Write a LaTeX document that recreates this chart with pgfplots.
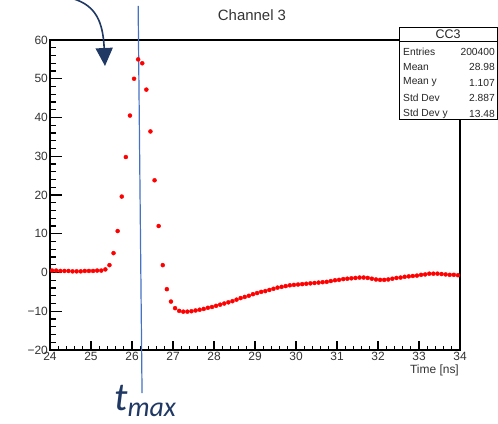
\documentclass[border=0pt]{standalone}
\usepackage{pgfplots}
\pgfplotsset{compat=1.18}
\usepackage{pgfplotstable}
\usepackage{fontspec}
\setmainfont{Liberation Sans}
\newfontfamily\calibri{Carlito}
\usetikzlibrary{arrows.meta}

\definecolor{navy}{RGB}{31,56,100}
\definecolor{markerblue}{RGB}{68,114,196}

% Channel 3 waveform, 0.1 ns bins: bin centre [ns], amplitude
\pgfplotstableread{
t v
24.05 0.5
24.15 0.5
24.25 0.4
24.35 0.4
24.45 0.4
24.55 0.3
24.65 0.3
24.75 0.3
24.85 0.4
24.95 0.4
25.05 0.4
25.15 0.5
25.25 0.5
25.35 0.8
25.45 1.9
25.55 5.0
25.65 10.7
25.75 19.6
25.85 29.8
25.95 40.5
26.05 50.0
26.15 55.0
26.25 54.0
26.35 47.2
26.45 36.4
26.55 23.8
26.65 12.0
26.75 1.9
26.85 -4.3
26.95 -7.5
27.05 -9.2
27.15 -9.9
27.25 -10.1
27.35 -10.1
27.45 -10.0
27.55 -9.8
27.65 -9.6
27.75 -9.4
27.85 -9.1
27.95 -8.9
28.05 -8.6
28.15 -8.3
28.25 -8.0
28.35 -7.7
28.45 -7.4
28.55 -7.0
28.65 -6.6
28.75 -6.3
28.85 -6.0
28.95 -5.6
29.05 -5.3
29.15 -5.0
29.25 -4.8
29.35 -4.5
29.45 -4.2
29.55 -3.9
29.65 -3.7
29.75 -3.5
29.85 -3.3
29.95 -3.2
30.05 -3.1
30.15 -3.0
30.25 -2.9
30.35 -2.8
30.45 -2.7
30.55 -2.6
30.65 -2.5
30.75 -2.4
30.85 -2.2
30.95 -2.0
31.05 -1.9
31.15 -1.7
31.25 -1.6
31.35 -1.5
31.45 -1.4
31.55 -1.3
31.65 -1.3
31.75 -1.4
31.85 -1.6
31.95 -1.8
32.05 -1.9
32.15 -1.9
32.25 -1.8
32.35 -1.6
32.45 -1.4
32.55 -1.3
32.65 -1.1
32.75 -1.0
32.85 -0.9
32.95 -0.8
33.05 -0.6
33.15 -0.5
33.25 -0.3
33.35 -0.3
33.45 -0.3
33.55 -0.4
33.65 -0.5
33.75 -0.6
33.85 -0.6
33.95 -0.7
}\channelthree

\begin{document}
\begin{tikzpicture}
\begin{axis}[
  scale only axis,
  width=410bp, height=310bp,
  xmin=24, xmax=34, ymin=-20, ymax=60,
  clip=false,
  axis line style={line width=1.3bp},
  xtick={24,25,...,34},
  ytick={-20,-10,...,60},
  minor x tick num=4,
  minor y tick num=4,
  tick align=inside,
  major tick length=9bp,
  minor tick length=4.5bp,
  tick style={black, line width=1.2bp},
  xticklabels={24,25,26,27,28,29,30,31,32,33,34},
  yticklabels={−20,−10,0,10,20,30,40,50,60},
  xticklabel style={font=\fontsize{12}{12}\selectfont, text=black!80, inner sep=2bp},
  yticklabel style={font=\fontsize{12}{12}\selectfont, text=black!80, inner sep=2bp},
  xtick pos=left,
  ytick pos=left,
  xlabel={Time [ns]},
  xlabel style={at={(axis description cs:1,0)}, anchor=north east,
    yshift=-15bp, xshift=-1bp, inner sep=0pt,
    font=\fontsize{12}{12}\selectfont, text=black!80},
]
\addplot[only marks, mark=*, mark size=2bp, color=red,
  mark options={draw=red, fill=red}] table[x=t, y=v] {\channelthree};

% inward tick marks along the time axis (majors 1 ns, minors 0.2 ns)
\draw[black, line width=1.4bp]
  (24,-20)--(24,-17.7) (25,-20)--(25,-17.7) (26,-20)--(26,-17.7)
  (27,-20)--(27,-17.7) (28,-20)--(28,-17.7) (29,-20)--(29,-17.7)
  (30,-20)--(30,-17.7) (31,-20)--(31,-17.7) (32,-20)--(32,-17.7)
  (33,-20)--(33,-17.7) (34,-20)--(34,-17.7);
\draw[black, line width=1.2bp]
  (24.2,-20)--(24.2,-18.85) (24.4,-20)--(24.4,-18.85) (24.6,-20)--(24.6,-18.85) (24.8,-20)--(24.8,-18.85)
  (25.2,-20)--(25.2,-18.85) (25.4,-20)--(25.4,-18.85) (25.6,-20)--(25.6,-18.85) (25.8,-20)--(25.8,-18.85)
  (26.2,-20)--(26.2,-18.85) (26.4,-20)--(26.4,-18.85) (26.6,-20)--(26.6,-18.85) (26.8,-20)--(26.8,-18.85)
  (27.2,-20)--(27.2,-18.85) (27.4,-20)--(27.4,-18.85) (27.6,-20)--(27.6,-18.85) (27.8,-20)--(27.8,-18.85)
  (28.2,-20)--(28.2,-18.85) (28.4,-20)--(28.4,-18.85) (28.6,-20)--(28.6,-18.85) (28.8,-20)--(28.8,-18.85)
  (29.2,-20)--(29.2,-18.85) (29.4,-20)--(29.4,-18.85) (29.6,-20)--(29.6,-18.85) (29.8,-20)--(29.8,-18.85)
  (30.2,-20)--(30.2,-18.85) (30.4,-20)--(30.4,-18.85) (30.6,-20)--(30.6,-18.85) (30.8,-20)--(30.8,-18.85)
  (31.2,-20)--(31.2,-18.85) (31.4,-20)--(31.4,-18.85) (31.6,-20)--(31.6,-18.85) (31.8,-20)--(31.8,-18.85)
  (32.2,-20)--(32.2,-18.85) (32.4,-20)--(32.4,-18.85) (32.6,-20)--(32.6,-18.85) (32.8,-20)--(32.8,-18.85)
  (33.2,-20)--(33.2,-18.85) (33.4,-20)--(33.4,-18.85) (33.6,-20)--(33.6,-18.85) (33.8,-20)--(33.8,-18.85);
% inward tick marks along the amplitude axis (majors 10, minors 2)
\draw[black, line width=1.4bp]
  (24,-20)--(24.29,-20) (24,-10)--(24.29,-10) (24,0)--(24.29,0)
  (24,10)--(24.29,10) (24,20)--(24.29,20) (24,30)--(24.29,30)
  (24,40)--(24.29,40) (24,50)--(24.29,50) (24,60)--(24.29,60);
\draw[black, line width=1.2bp]
  (24,-18)--(24.146,-18) (24,-16)--(24.146,-16) (24,-14)--(24.146,-14) (24,-12)--(24.146,-12)
  (24,-8)--(24.146,-8) (24,-6)--(24.146,-6) (24,-4)--(24.146,-4) (24,-2)--(24.146,-2)
  (24,2)--(24.146,2) (24,4)--(24.146,4) (24,6)--(24.146,6) (24,8)--(24.146,8)
  (24,12)--(24.146,12) (24,14)--(24.146,14) (24,16)--(24.146,16) (24,18)--(24.146,18)
  (24,22)--(24.146,22) (24,24)--(24.146,24) (24,26)--(24.146,26) (24,28)--(24.146,28)
  (24,32)--(24.146,32) (24,34)--(24.146,34) (24,36)--(24.146,36) (24,38)--(24.146,38)
  (24,42)--(24.146,42) (24,44)--(24.146,44) (24,46)--(24.146,46) (24,48)--(24.146,48)
  (24,52)--(24.146,52) (24,54)--(24.146,54) (24,56)--(24.146,56) (24,58)--(24.146,58);

% marker line at the peak time
\draw[markerblue, line width=1.2bp] (axis cs:26.15,68.8) -- (axis cs:26.245,-31.1);
\coordinate (sw) at (rel axis cs:0,0);
\end{axis}

% frame in bp measured from the top-left corner, y pointing down
\begin{scope}[x=1bp, y=-1bp, shift={(sw)}, shift={(-50,-350)}]
  \node[font=\fontsize{15}{15}\selectfont, text=black!80] at (252,15) {Channel 3};
  % statistics box
  \draw[line width=1bp, fill=white] (399,27) rectangle (497,119);
  \draw[line width=0.8bp] (399,41.7) -- (497,41.7);
  \node[font=\fontsize{12.5}{12.5}\selectfont, text=black!85] at (448,34.5) {CC3};
  \begin{scope}[every node/.style={font=\fontsize{10.3}{10.3}\selectfont, text=black!85, inner sep=0pt}]
    \node[anchor=west] at (403,51.5) {Entries};
    \node[anchor=east] at (495,51.5) {200400};
    \node[anchor=west] at (403,67) {Mean};
    \node[anchor=east] at (495,67) {28.98};
    \node[anchor=west] at (403,82.5) {Mean y};
    \node[anchor=east] at (495,82.5) {1.107};
    \node[anchor=west] at (403,98) {Std Dev};
    \node[anchor=east] at (495,98) {2.887};
    \node[anchor=west] at (403,113.5) {Std Dev y};
    \node[anchor=east] at (495,113.5) {13.48};
  \end{scope}
  % curved pointer
  \draw[navy, line width=1.6bp, -{Triangle[width=17bp, length=18bp]}]
    (74,-1) .. controls (96,6) and (103,22) .. (105,66);
  % t_max label
  \node[anchor=base west, inner sep=0pt, text=navy] at (114,410)
    {\calibri\itshape\fontsize{40}{40}\selectfont t\raisebox{-6bp}{\fontsize{28}{28}\selectfont max}};
  \pgfresetboundingbox
  \useasboundingbox (0,0) rectangle (498,423);
\end{scope}
\end{tikzpicture}
\end{document}
